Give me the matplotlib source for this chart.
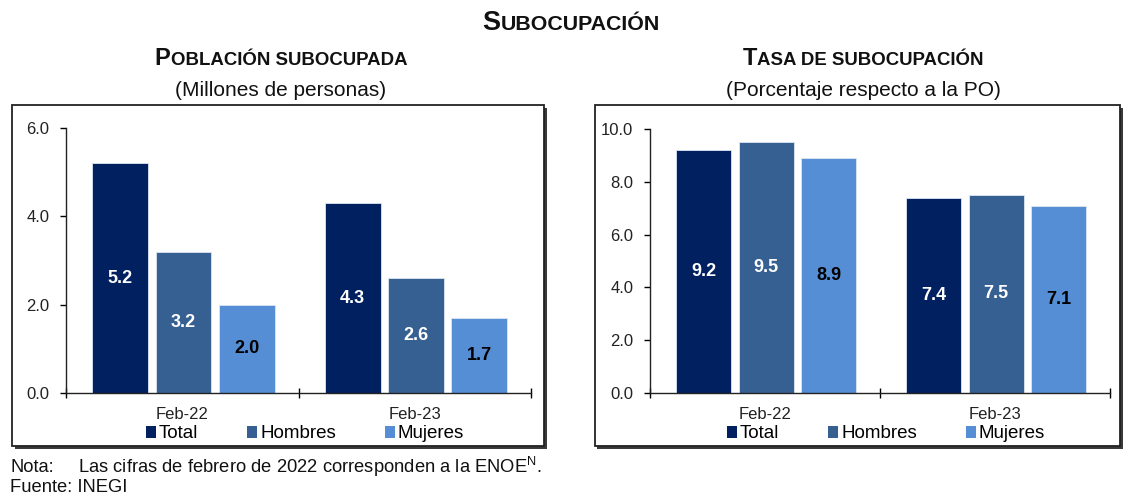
import matplotlib
matplotlib.use("Agg")
import matplotlib.pyplot as plt
from matplotlib.patches import Rectangle, Patch
import numpy as np

plt.rcParams['font.family'] = ['Liberation Sans', 'DejaVu Sans']

# ---- data ----
categories = ['Feb-22', 'Feb-23']
series_names = ['Total', 'Hombres', 'Mujeres']
pob_total = [5.2, 4.3]
pob_hombres = [3.2, 2.6]
pob_mujeres = [2.0, 1.7]
tasa_total = [9.2, 7.4]
tasa_hombres = [9.5, 7.5]
tasa_mujeres = [8.9, 7.1]
pob_ticks = [0.0, 2.0, 4.0, 6.0]
tasa_ticks = [0.0, 2.0, 4.0, 6.0, 8.0, 10.0]

colors = ['#002060', '#376092', '#558ED5']
label_colors = ['white', 'white', 'black']

W, H = 1126, 495
fig = plt.figure(figsize=(W / 100, H / 100), dpi=100)
fig.patch.set_facecolor('white')


def px_rect(x0, y0, x1, y1):
    return [x0 / W, 1 - y1 / H, (x1 - x0) / W, (y1 - y0) / H]


def frame(x0, y0, x1, y1):
    l, b, w, h = px_rect(x0, y0, x1, y1)
    sh = Rectangle((l + 2.5 / W, b - 2.5 / H), w, h, transform=fig.transFigure,
                   facecolor='#3a3a3a', edgecolor='none', zorder=-2)
    fr = Rectangle((l, b), w, h, transform=fig.transFigure,
                   facecolor='white', edgecolor='#222222', linewidth=1.3, zorder=-1)
    fig.patches.extend([sh, fr])


frame(12, 105, 544, 446)
frame(595, 105, 1120, 446)

renderer = fig.canvas.get_renderer()


def smallcaps(xc, yb, text, size, ratio=0.79):
    runs = []
    for ch in text:
        big = ch.isupper()
        if runs and runs[-1][1] == big:
            runs[-1][0] += ch.upper()
        else:
            runs.append([ch.upper(), big])
    objs = []
    for s, big in runs:
        t = fig.text(0, 1 - yb / H, s, fontsize=size if big else size * ratio,
                     fontweight='bold', va='baseline', ha='left', color='#111111')
        objs.append(t)
    widths = [t.get_window_extent(renderer).width for t in objs]
    total = sum(widths)
    x = xc - total / 2
    for t, w in zip(objs, widths):
        t.set_x(x / W)
        x += w


smallcaps(571, 30, 'Subocupación', 19.5)
smallcaps(281, 65, 'Población subocupada', 17)
smallcaps(863, 65, 'Tasa de subocupación', 17)
fig.text(281 / W, 1 - 90 / H, '(Millones de personas)', ha='center', va='center',
         fontsize=15, color='#111111')
fig.text(863 / W, 1 - 90 / H, '(Porcentaje respecto a la PO)', ha='center', va='center',
         fontsize=15, color='#111111')


def make_axes(rect, vals_list, ticks):
    ax = fig.add_axes(rect)
    ax.set_facecolor('none')
    x = np.arange(len(categories))
    width = 0.24
    pitch = 0.272
    for i, (vals, c, lc) in enumerate(zip(vals_list, colors, label_colors)):
        pos = x + (i - 1) * pitch + 0.005
        bars = ax.bar(pos, vals, width=width, color=c, edgecolor='#dde6f2',
                      linewidth=0.6, zorder=2, label=series_names[i])
        for b, v in zip(bars, vals):
            ax.text(b.get_x() + b.get_width() / 2, v / 2, f'{v:.1f}', ha='center',
                    va='center', color=lc, fontsize=13, fontweight='bold', zorder=3)
    ax.set_xlim(-0.5, len(categories) - 0.5)
    ax.set_ylim(ticks[0], ticks[-1])
    ax.set_yticks(ticks)
    ax.set_yticklabels([f'{t:.1f}' for t in ticks], fontsize=12, color='#222222')
    ax.set_xticks(np.arange(len(categories) + 1) - 0.5, minor=True)
    ax.set_xticks(x)
    ax.set_xticklabels(categories, fontsize=12, color='#222222')
    ax.tick_params(axis='x', which='major', length=0, pad=10)
    ax.tick_params(axis='x', which='minor', length=7, direction='inout', width=1)
    ax.tick_params(axis='y', length=4, direction='out', width=1, pad=8)
    for s in ['top', 'right']:
        ax.spines[s].set_visible(False)
    for s in ['left', 'bottom']:
        ax.spines[s].set_linewidth(1.0)
        ax.spines[s].set_color('#222222')
        ax.spines[s].set_zorder(4)
    return ax


ax1 = make_axes(px_rect(66, 128, 531, 393), [pob_total, pob_hombres, pob_mujeres], pob_ticks)
ax2 = make_axes(px_rect(650, 129, 1110, 393), [tasa_total, tasa_hombres, tasa_mujeres], tasa_ticks)


def legend(xc):
    handles = [Patch(facecolor=c, edgecolor='none') for c in colors]
    fig.legend(handles, series_names, loc='center', bbox_to_anchor=(xc / W, 1 - 434 / H),
               ncol=3, frameon=False, fontsize=13.5, handlelength=0.55, handleheight=0.55,
               handletextpad=0.15, columnspacing=2.6, borderaxespad=0)


legend(305)
legend(886)

fs_note = 13.2
fig.text(10 / W, 1 - 467 / H, 'Nota:', ha='left', va='center', fontsize=fs_note, color='#111111')
fig.text(78 / W, 1 - 467 / H, 'Las cifras de febrero de 2022 corresponden a la ENOE$^{\\mathregular{N}}$.',
         ha='left', va='center', fontsize=fs_note, color='#111111')
fig.text(10 / W, 1 - 487 / H, 'Fuente: INEGI', ha='left', va='center', fontsize=fs_note, color='#111111')

fig.savefig('out.png', dpi=100, facecolor='white')
